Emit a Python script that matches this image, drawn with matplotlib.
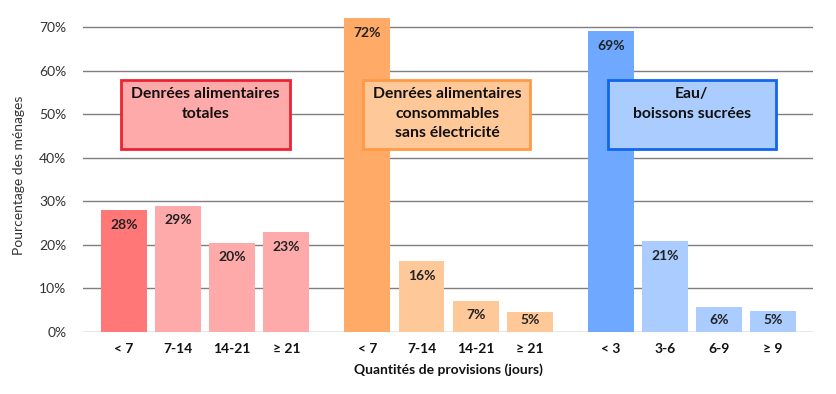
import matplotlib.pyplot as plt
from matplotlib.patches import Rectangle

plt.rcParams["font.family"] = ["Lato", "DejaVu Sans"]

# données
categories = ["< 7", "7-14", "14-21", "≥ 21",
              "< 7", "7-14", "14-21", "≥ 21",
              "< 3", "3-6", "6-9", "≥ 9"]
valeurs = [28, 29, 20.5, 23, 72, 16.3, 7.2, 4.7, 69, 20.8, 5.8, 4.9]
groupes = ["Denrées alimentaires\ntotales",
           "Denrées alimentaires\nconsommables\nsans électricité",
           "Eau/\nboissons sucrées"]
etiquettes = ["28%", "29%", "20%", "23%", "72%", "16%", "7%", "5%",
              "69%", "21%", "6%", "5%"]

# style
couleurs = ["#FF7777", "#FFAAAA", "#FFAAAA", "#FFAAAA",
            "#FFAA66", "#FFC899", "#FFC899", "#FFC899",
            "#6FA8FF", "#AACCFF", "#AACCFF", "#AACCFF"]
box_face = ["#FFAAAA", "#FFC899", "#AACCFF"]
box_edge = ["#EE2233", "#FF9944", "#1166EE"]

# positions : 4 barres par groupe, espace de 1.5 entre groupes
xpos = [g * 4.5 + i for g in range(3) for i in range(4)]

fig = plt.figure(figsize=(8.36, 3.94), dpi=100)
ax = fig.add_axes([83 / 836, 62 / 394, 730 / 836, 313.7 / 394])

ax.bar(xpos, valeurs, width=0.85, color=couleurs, zorder=2, clip_on=False)

for x, v, lab in zip(xpos, valeurs, etiquettes):
    ax.text(x, max(v - 3.4, 2.8), lab, ha="center", va="center",
            fontsize=10, fontweight="bold", color="#222222", zorder=3)

# encadrés des groupes
for g in range(3):
    x0 = g * 4.5 - 0.06
    w = 3.12 if g != 1 else 3.08
    ax.add_patch(Rectangle((x0 - (0.02 if g == 1 else 0), 42.1), w, 15.7,
                           facecolor=box_face[g], edgecolor=box_edge[g],
                           lw=2, zorder=4))
    ax.text(x0 + w / 2, 56.2, groupes[g], ha="center", va="top",
            fontsize=11.3, fontweight="bold", color="#111111",
            linespacing=1.5, zorder=5)

ax.set_xlim(-0.76, 12.74)
ax.set_ylim(0, 72)
ax.set_yticks(range(0, 71, 10))
ax.set_yticklabels([f"{t}%" for t in range(0, 71, 10)], fontsize=10, color="#333333")
ax.set_xticks(xpos)
ax.set_xticklabels(categories, fontsize=10, fontweight="bold", color="#111111")
ax.tick_params(length=0, pad=8)
ax.tick_params(axis="y", pad=12)

ax.grid(axis="y", color="#7f7f7f", lw=1, zorder=0)
for s in ax.spines.values():
    s.set_visible(False)

ax.set_xlabel("Quantités de provisions (jours)", fontsize=10, fontweight="bold",
              color="#111111", labelpad=6)
ax.set_ylabel("Pourcentage des ménages", fontsize=10, color="#333333", labelpad=10)

fig.savefig("out.png", dpi=100)
